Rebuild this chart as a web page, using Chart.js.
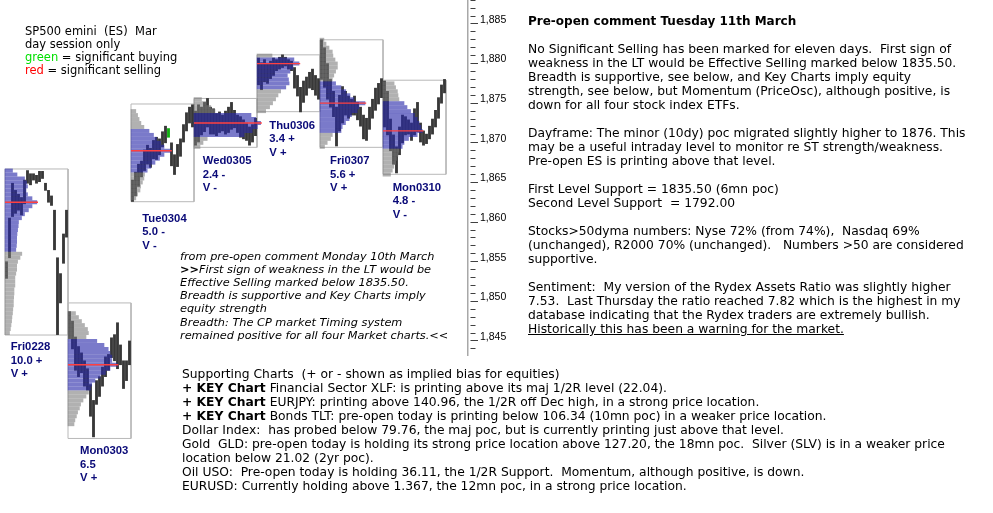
<!DOCTYPE html>
<html><head><meta charset="utf-8">
<script src="https://cdn.jsdelivr.net/npm/chart.js@4.4.1/dist/chart.umd.min.js"></script>
<style>
html,body{margin:0;padding:0;background:#fff;}
#wrap{position:relative;width:993px;height:513px;overflow:hidden;background:#fff;}
#c{position:absolute;left:0;top:0;}
.t{position:absolute;white-space:pre;font-family:"DejaVu Sans",sans-serif;color:#000;z-index:2;}
.d{position:absolute;white-space:pre;font-family:"Liberation Sans",Arial,sans-serif;font-weight:bold;font-size:11.3px;line-height:13.6px;color:#0a0a78;z-index:2;}
</style></head>
<body><div id="wrap"><canvas id="c" width="993" height="513"></canvas>
<div class="t" style="left:25px;top:24.5px;font-size:11.5px;line-height:13.1px">SP500 emini  (ES)  Mar
day session only
<span style="color:#00e000">green</span> = significant buying
<span style="color:#ff0000">red</span> = significant selling</div>
<div class="t" style="left:528px;top:14px;font-size:12.3px;line-height:14px"><b style="font-size:12px">Pre-open comment Tuesday 11th March</b>

No Significant Selling has been marked for eleven days.  First sign of
weakness in the LT would be Effective Selling marked below 1835.50.
Breadth is supportive, see below, and Key Charts imply equity
strength, see below, but Momentum (PriceOsc), although positive, is
down for all four stock index ETFs.

Dayframe: The minor (10dy) poc migrated slightly higher to 1876. This
may be a useful intraday level to monitor re ST strength/weakness.
Pre-open ES is printing above that level.

First Level Support = 1835.50 (6mn poc)
Second Level Support  = 1792.00

Stocks>50dyma numbers: Nyse 72% (from 74%),  Nasdaq 69%
(unchanged), R2000 70% (unchanged).   Numbers >50 are considered
supportive.

Sentiment:  My version of the Rydex Assets Ratio was slightly higher
7.53.  Last Thursday the ratio reached 7.82 which is the highest in my
database indicating that the Rydex traders are extremely bullish.
<u>Historically this has been a warning for the market.</u></div>
<div class="t" style="left:180px;top:249.5px;font-size:11.3px;line-height:13.2px;font-style:italic">from pre-open comment Monday 10th March
<b style="font-style:normal">&gt;&gt;</b>First sign of weakness in the LT would be
Effective Selling marked below 1835.50.
Breadth is supportive and Key Charts imply
equity strength
Breadth: The CP market Timing system
remained positive for all four Market charts.&lt;&lt;</div>
<div class="t" style="left:182px;top:367px;font-size:12.3px;line-height:14px">Supporting Charts  (+ or - shown as implied bias for equities)
<b>+ KEY Chart</b> Financial Sector XLF: is printing above its maj 1/2R level (22.04).
<b>+ KEY Chart</b> EURJPY: printing above 140.96, the 1/2R off Dec high, in a strong price location.
<b>+ KEY Chart</b> Bonds TLT: pre-open today is printing below 106.34 (10mn poc) in a weaker price location.
Dollar Index:  has probed below 79.76, the maj poc, but is currently printing just above that level.
Gold  GLD: pre-open today is holding its strong price location above 127.20, the 18mn poc.  Silver (SLV) is in a weaker price
location below 21.02 (2yr poc).
Oil USO:  Pre-open today is holding 36.11, the 1/2R Support.  Momentum, although positive, is down.
EURUSD: Currently holding above 1.367, the 12mn poc, in a strong price location.</div>
<div id="labels"></div>
</div>
<script>
// ---- data ----
const days = ['Fri0228','Mon0303','Tue0304','Wed0305','Thu0306','Fri0307','Mon0310'];
const dayStats = ['10.0 +','6.5','5.0 -','2.4 -','3.4 +','5.6 +','4.8 -'];
const dayVol = ['V +','V +','V -','V -','V +','V +','V -'];

const fri0228Low  = [1852.4,1855.0,1860.2,1860.6,1861.0,1860.4,1861.8,1864.4,1864.2,1864.8,1864.4,1864.6,1865.0,1863.5,1862.0,1861.6,1856.0,1845.3,1849.3,1854.3,1857.6];
const fri0228High = [1854.5,1860.0,1864.4,1863.5,1863.0,1862.6,1864.8,1866.0,1865.6,1865.6,1865.4,1865.9,1865.9,1864.4,1863.5,1862.8,1861.0,1855.0,1853.0,1858.0,1861.0];
const mon0303Low  = [1844.8,1843.5,1840.8,1840.0,1840.5,1838.8,1838.3,1835.0,1832.4,1836.5,1837.5,1838.8,1840.0,1840.8,1842.4,1842.0,1841.0,1841.5,1838.5,1839.5,1841.5];
const mon0303High = [1848.2,1847.0,1845.0,1843.8,1843.0,1842.0,1841.0,1839.0,1837.0,1839.5,1840.0,1841.2,1842.5,1842.8,1844.9,1845.3,1846.8,1844.0,1842.0,1842.0,1844.5];
const tue0304Low  = [1862.1,1862.8,1864.0,1865.2,1866.0,1866.8,1866.4,1867.5,1867.4,1868.0,1869.0,1869.5,1870.2,1866.6,1865.5,1866.5,1867.8,1869.6,1871.0,1872.0,1871.5];
const tue0304High = [1864.8,1865.8,1866.8,1867.2,1868.6,1869.2,1868.8,1869.8,1870.2,1870.0,1870.9,1871.6,1871.3,1869.5,1868.0,1869.3,1870.0,1871.8,1873.3,1874.0,1874.3];
const wed0305Low  = [1869.2,1869.6,1870.5,1870.9,1871.5,1870.6,1870.6,1870.4,1870.8,1871.0,1870.6,1870.8,1871.2,1871.4,1870.8,1870.2,1870.0,1869.8,1869.2,1869.6,1870.4];
const wed0305High = [1873.5,1874.3,1874.0,1874.6,1875.1,1874.0,1873.8,1873.2,1873.4,1873.0,1873.5,1874.0,1874.6,1873.6,1873.0,1872.8,1872.4,1872.0,1871.5,1871.8,1872.6];
const thu0306Low  = [1876.8,1876.2,1877.2,1877.0,1877.6,1878.0,1878.6,1878.8,1879.0,1879.2,1878.8,1878.6,1876.4,1875.4,1873.4,1874.6,1875.5,1876.4,1876.2,1875.5,1875.0];
const thu0306High = [1880.2,1879.6,1880.0,1879.5,1879.8,1880.2,1880.0,1880.3,1880.6,1880.3,1880.0,1879.8,1879.0,1878.0,1876.5,1877.3,1877.8,1878.4,1878.8,1878.0,1877.6];
const fri0307Low  = [1877.5,1876.5,1875.0,1874.0,1872.8,1869.1,1871.0,1872.0,1873.0,1872.6,1873.0,1873.0,1872.4,1871.6,1870.0,1869.8,1871.2,1872.6,1873.6,1874.4,1875.2];
const fri0307High = [1882.5,1881.5,1879.5,1877.5,1876.0,1874.0,1875.5,1876.6,1876.0,1875.4,1875.0,1875.4,1874.6,1874.0,1873.0,1872.6,1874.0,1875.0,1876.4,1877.0,1877.6];
const mon0310Low  = [1871.5,1870.5,1868.5,1866.8,1865.7,1868.0,1869.5,1870.5,1870.6,1869.8,1870.5,1870.9,1869.6,1869.2,1869.4,1870.0,1870.6,1871.5,1872.6,1874.5,1875.8];
const mon0310High = [1877.3,1876.0,1872.5,1870.5,1869.0,1871.5,1873.0,1872.8,1872.4,1872.0,1873.8,1874.6,1872.0,1871.0,1870.6,1871.6,1872.5,1873.6,1875.2,1876.8,1877.5];

// significant buying bars: [day, bar]
const greenBars = [[2,12]];

// market profiles (TPO counts per half-point row, from profile top downwards)
const profileTop = [1866.0,1848.0,1873.5,1875.0,1880.5,1882.5,1877.0];
const vaHigh = [1866.0,1844.5,1871.0,1873.0,1880.0,1877.0,1874.5];
const vaLow  = [1856.0,1838.5,1866.0,1870.5,1876.5,1871.0,1869.0];
const poc    = [1862.0,1841.5,1868.5,1872.0,1879.5,1874.5,1871.0];
const fri0228Prof = [2.5,4,6.5,7.2,7.5,7,7.5,9,10.6,9,7.8,6.5,5.5,4.5,4.4,4.2,4.0,3.9,3.9,3.8,3.6,5.6,5.0,4.2,3.9,3.9,3.6,3.3,3.3,3.3,3.0,3.0,2.9,2.8,2.8,2.6,2.5,2.3,2.2,2.0,1.8,1.5];
const mon0303Prof = [2.5,3.5,4.5,5.5,6.5,6.8,6.0,9.6,12,13.4,14,14.6,14.6,16.4,14,12.5,10.7,9,7.9,7.5,6.8,6,5,4.2,3.8,3.2,2.8,2.3,2.0];
const tue0304Prof = [1.6,2.2,2.7,3.3,4.3,6.0,7.5,8.5,9.9,11.0,13.2,11.0,9.5,8.0,6.6,5.4,4.5,4.3,3.8,3.2,3.0,2.2,1.6];
const wed0305Prof = [2.5,4.0,5.6,7.0,19,20.6,22.2,21.1,19.4,16.7,4.4,3.0,2.0];
const thu0306Prof = [5,12.3,14,12,11,10.1,10.5,10.7,9.6,7.9,7,6.2,5.2,4.2,2.9];
const fri0307Prof = [1.3,2.0,3.0,4.1,4.3,5.0,5.8,5.8,5.2,4.6,4.1,5.2,7,8.6,10,11.3,15,13,12.4,10.5,9.7,8.5,7.4,7.0,4.1,3.5,2.4,1.5];
const mon0310Prof = [3.7,4.2,4.8,5.0,5.3,7.0,8.0,9.2,10.5,11.4,12.0,12.6,13.1,11.4,8.5,7.0,6.4,5.3,5.0,4.5,4.2,3.6,3.1,2.5];

// day box price range
const boxTop    = [1866.2,1849.3,1874.4,1875.1,1880.6,1882.5,1877.4];
const boxBottom = [1845.25,1832.2,1862.07,1868.93,1873.43,1868.93,1865.53];

// ---- build ----
const lows  = [fri0228Low,mon0303Low,tue0304Low,wed0305Low,thu0306Low,fri0307Low,mon0310Low];
const highs = [fri0228High,mon0303High,tue0304High,wed0305High,thu0306High,fri0307High,mon0310High];
const profs = [fri0228Prof,mon0303Prof,tue0304Prof,wed0305Prof,thu0306Prof,fri0307Prof,mon0310Prof];
const PER_DAY = 21;
const BLUE = 'rgba(40,40,170,0.62)', GREY = 'rgba(120,120,120,0.58)';

const barData = [], barColors = [];
lows.forEach((arr, i) => arr.forEach((lo, j) => {
  barData.push({x: i*PER_DAY + j + 0.5, y: [lo, highs[i][j]]});
  barColors.push(greenBars.some(g => g[0]===i && g[1]===j) ? '#10b010' : '#383838');
}));
const profData = [], profColors = [];
profs.forEach((arr, i) => arr.forEach((w, k) => {
  const p = profileTop[i] - k*0.5;
  profData.push({y: p, x: [i*PER_DAY, i*PER_DAY + w]});
  profColors.push(p <= vaHigh[i] + 0.01 && p >= vaLow[i] - 0.01 ? BLUE : GREY);
}));

const datasets = [
  {type:'bar', indexAxis:'y', data: profData, backgroundColor: profColors, borderWidth:0, barThickness:3.3, grouped:false, clip:false, order:1},
  {type:'bar', data: barData, backgroundColor: barColors, borderWidth:0, barThickness:2.2, grouped:false, clip:false, order:2}
];
days.forEach((d, i) => {
  const s = i*PER_DAY, e = s + PER_DAY;
  const w = profs[i][Math.round((profileTop[i]-poc[i])/0.5)];
  datasets.push({type:'line', data:[{x:s,y:poc[i]},{x:s+w+0.4,y:poc[i]}], borderColor:'#ff4040', borderWidth:1.3, pointRadius:0, clip:false, order:0});
  datasets.push({type:'line', data:[{x:s,y:boxTop[i]},{x:e,y:boxTop[i]},{x:e,y:boxBottom[i]},{x:s,y:boxBottom[i]},{x:s,y:boxTop[i]}],
    borderColor:'#b8b8b8', borderWidth:1, pointRadius:0, clip:false, order:3, tension:0});
});

new Chart(document.getElementById('c'), {
  type: 'bar',
  data: {datasets},
  options: {
    responsive:false, animation:false, events:[],
    layout:{padding:{top:0,left:0,right:0,bottom:158}},
    plugins:{legend:{display:false}, tooltip:{enabled:false}},
    scales:{
      x:{type:'linear', display:false, offset:false, min:-5/3, max:-5/3+156},
      y:{type:'linear', position:'right', offset:false, min:1842.73, max:1887.52,
        afterFit: s => { s.width = 993-468; s.paddingTop = 0; s.paddingBottom = 0; },
        border:{display:true, color:'#a8a8a8', width:1.5},
        grid:{drawOnChartArea:false, drawTicks:true, tickLength:10, tickColor:'#404040', tickWidth:1,
          tickBorderDash: ctx => (ctx.tick && ctx.tick.value % 5 === 0) ? [0,2,8,30] : [0,2,5,30]},
        ticks:{stepSize:1, autoSkip:false, includeBounds:false, padding:2, color:'#000',
          font:{family:'Liberation Sans', size:10.5, lineHeight:0.01},
          callback: v => (v % 5 === 0) ? v.toLocaleString('en-US') : ''}
      }
    }
  }
});

// day labels
const labelPos = [[10.7,340],[80,444],[142.3,211.5],[202.7,154],[269.3,118.5],[330,154],[392.7,180.7]];
const lab = document.getElementById('labels');
days.forEach((d, i) => {
  const el = document.createElement('div');
  el.className = 'd';
  el.style.left = labelPos[i][0] + 'px';
  el.style.top = labelPos[i][1] + 'px';
  el.textContent = d + '\n' + dayStats[i] + '\n' + dayVol[i];
  lab.appendChild(el);
});
</script>
</body></html>
